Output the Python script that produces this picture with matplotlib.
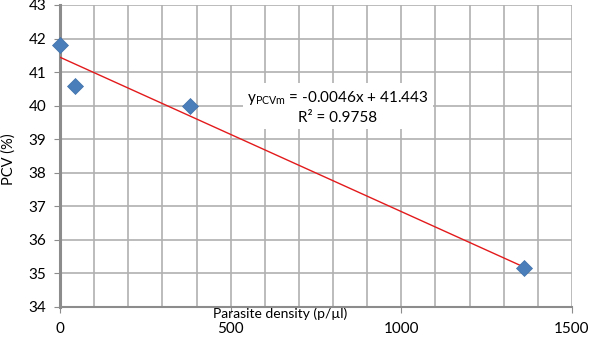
import numpy as np
import matplotlib
matplotlib.use("Agg")
import matplotlib.pyplot as plt

# data
density = [0, 44, 381, 1360]
pcv = [41.81, 40.59, 39.99, 35.16]

# trend line as printed on the chart
slope = -0.0046
intercept = 41.443

plt.rcParams["font.family"] = ["Lato", "DejaVu Sans"]
plt.rcParams["mathtext.default"] = "regular"

fig = plt.figure(figsize=(5.89, 3.38), dpi=100)
ax = fig.add_axes([60 / 589, 1 - 307 / 338, 512 / 589, 302 / 338])

x_fit = np.array([min(density), max(density)])
ax.plot(x_fit, slope * x_fit + intercept, color="#e31a1c", lw=1.0, zorder=3)
ax.plot(density, pcv, "D", color="#4a7ebb", ms=8.5, mec="#3f6fa8", mew=0.5, zorder=4,
        clip_on=False)

ax.set_xlim(0, 1500)
ax.set_ylim(34, 43)
ax.set_xticks([0, 500, 1000, 1500])
ax.set_xticks(np.arange(0, 1501, 100), minor=True)
ax.set_yticks(np.arange(34, 44, 1))

ax.grid(True, which="both", color="#b0b0b0", lw=1.2)
ax.set_axisbelow(True)

for s in ["top", "right"]:
    ax.spines[s].set_visible(False)
ax.spines["left"].set_color("#8c8c8c")
ax.spines["left"].set_linewidth(2.2)
ax.spines["bottom"].set_color("#8c8c8c")
ax.spines["bottom"].set_linewidth(1.5)

ax.tick_params(axis="x", which="major", length=4, color="#8c8c8c", pad=7, labelsize=11)
ax.tick_params(axis="x", which="minor", length=0)
ax.tick_params(axis="y", length=4, color="#8c8c8c", labelsize=11, pad=6)

ax.set_xlabel("Parasite density (p/µl)", fontsize=10)
ax.xaxis.set_label_coords(0.43, 0.0)
ax.set_ylabel("PCV (%)", fontsize=10.5)
ax.yaxis.set_label_coords(-0.087, 0.49)

ax.text(0.543, 0.662, "y$_{PCVm}$ = -0.0046x + 41.443\nR² = 0.9758",
        transform=ax.transAxes, ha="center", va="center", fontsize=11,
        linespacing=1.3, zorder=5,
        bbox=dict(facecolor="white", edgecolor="none", pad=3))

fig.savefig("out.png", dpi=100)
